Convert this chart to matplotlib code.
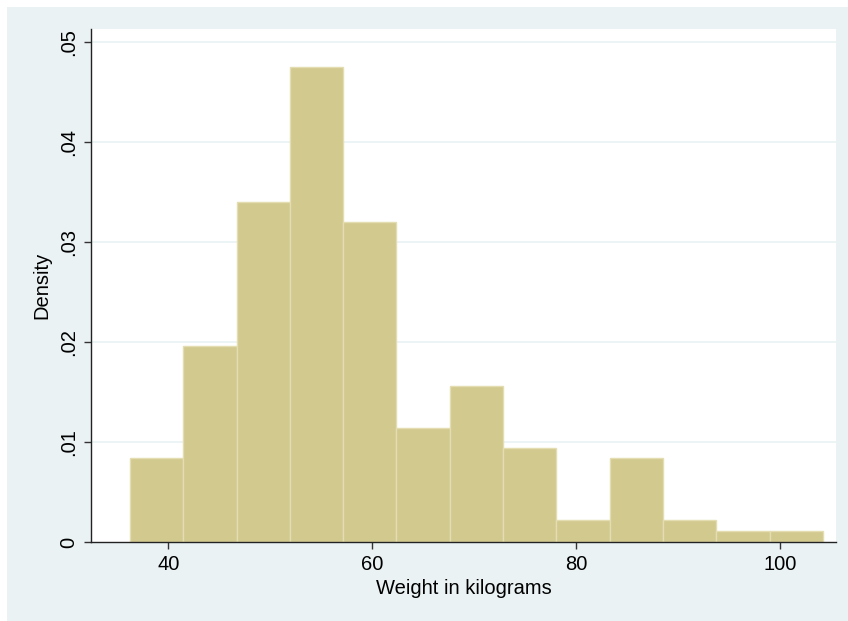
import numpy as np
import matplotlib
matplotlib.use("Agg")
import matplotlib.pyplot as plt
from matplotlib.patches import Rectangle

# Histogram (density per bin)
bin_start = 36.24
bin_width = 5.23
densities = [0.0084, 0.0196, 0.0340, 0.0475, 0.0320, 0.0114, 0.0156,
             0.0094, 0.0022, 0.0084, 0.0022, 0.0011, 0.0011]
x_ticks = [40, 60, 80, 100]
y_ticks = [0, 0.01, 0.02, 0.03, 0.04, 0.05]
y_ticklabels = ["0", ".01", ".02", ".03", ".04", ".05"]

plt.rcParams['font.family'] = ['Liberation Sans', 'DejaVu Sans']

fig = plt.figure(figsize=(8.48, 6.21), dpi=100)
fig.patch.set_facecolor("white")
# outer light region like Stata's graph region
fig.patches.append(Rectangle((7 / 848, 0), 1, 1 - 7 / 621, transform=fig.transFigure,
                             facecolor="#EAF2F3", edgecolor="none", zorder=-10))

ax = fig.add_axes([91 / 848, 1 - 542 / 621, (836 - 91) / 848, (542 - 29) / 621])
ax.set_facecolor("white")

lefts = bin_start + bin_width * np.arange(len(densities))
ax.bar(lefts, densities, width=bin_width, align="edge",
       color="#D2C98F", edgecolor="#E4DDB2", linewidth=1.0, zorder=2)

ax.set_xlim(32.41, 105.52)
ax.set_ylim(0, 0.0513)

ax.set_xticks(x_ticks)
ax.set_yticks(y_ticks)
ax.set_yticklabels(y_ticklabels, rotation=90, va="center")
for t in y_ticks[1:]:
    ax.axhline(t, color="#EAF2F3", linewidth=1.2, zorder=1)

for s in ["top", "right"]:
    ax.spines[s].set_visible(False)
for s in ["left", "bottom"]:
    ax.spines[s].set_color("#222222")
    ax.spines[s].set_linewidth(1.0)
    ax.spines[s].set_zorder(3)

ax.tick_params(axis="both", direction="out", length=5, width=1, color="#333333",
               labelsize=14.5, pad=4)

ax.set_xlabel("Weight in kilograms", fontsize=14.5, labelpad=4)
ax.set_ylabel("Density", fontsize=14.5, labelpad=6)

fig.savefig("out.png", dpi=100)
